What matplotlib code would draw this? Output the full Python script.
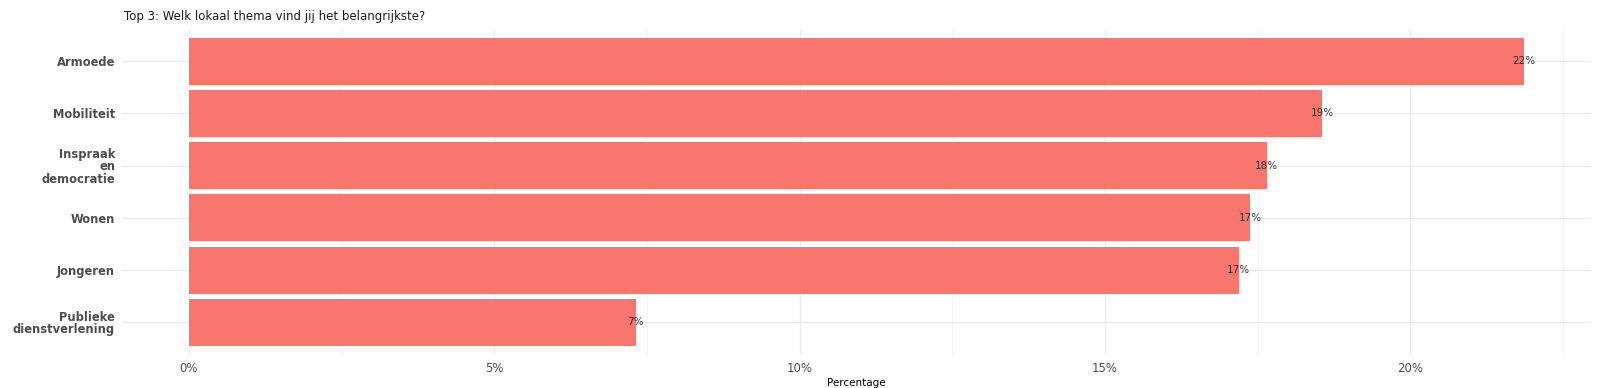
import matplotlib
matplotlib.use("Agg")
import matplotlib.pyplot as plt
from matplotlib.ticker import MultipleLocator, FuncFormatter

# data (percentages)
themes = ["Armoede", "Mobiliteit", "Inspraak\nen\ndemocratie", "Wonen",
          "Jongeren", "Publieke\ndienstverlening"]
percentages = [21.86, 18.56, 17.65, 17.38, 17.19, 7.32]
title = "Top 3: Welk lokaal thema vind jij het belangrijkste?"

fig = plt.figure(figsize=(16, 3.88), dpi=100)
ax = fig.add_axes([0.07625, 0.0884, 0.9179, 0.8346])

y = list(range(len(themes)))
ax.barh(y, percentages, height=0.9, color="#F8766D", zorder=2)

for yi, p in zip(y, percentages):
    ax.text(p, yi, f"{p:.0f}%", ha="center", va="center",
            fontsize=7.5, color="#333333", zorder=3)

span = max(percentages)
ax.set_xlim(-0.05 * span, 1.05 * span)
ax.set_ylim(len(themes) - 0.4, -0.6)

ax.set_yticks(y)
ax.set_yticklabels(themes, fontsize=8.3, fontweight="bold", color="#4D4D4D",
                   linespacing=0.95)
ax.xaxis.set_major_locator(MultipleLocator(5))
ax.xaxis.set_minor_locator(MultipleLocator(2.5))
ax.xaxis.set_major_formatter(FuncFormatter(lambda v, _: f"{v:.0f}%"))
ax.tick_params(axis="x", labelsize=8.5, labelcolor="#4D4D4D", length=0, pad=6)
ax.tick_params(axis="x", which="minor", length=0)
ax.tick_params(axis="y", length=0, pad=5)

ax.grid(True, which="major", color="#EBEBEB", linewidth=1.0, zorder=0)
ax.grid(True, which="minor", axis="x", color="#F2F2F2", linewidth=0.6, zorder=0)
for s in ax.spines.values():
    s.set_visible(False)

ax.set_xlabel("Percentage", fontsize=7.5, color="black", labelpad=2)
fig.text(0.0772, 0.958, title, fontsize=8.5, ha="left", va="center", color="#1A1A1A")

fig.savefig("out.png", dpi=100, facecolor="white")
